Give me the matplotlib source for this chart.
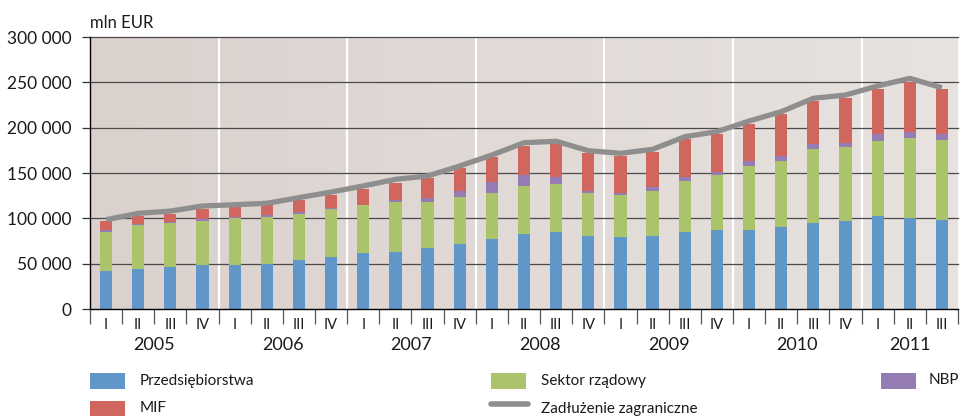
import numpy as np
import matplotlib
matplotlib.use("Agg")
import matplotlib.pyplot as plt
from matplotlib.patches import Rectangle
from matplotlib.lines import Line2D
from matplotlib.colors import LinearSegmentedColormap
from matplotlib.ticker import FuncFormatter, MultipleLocator
import matplotlib.transforms as mtransforms

plt.rcParams['font.family'] = ['Lato', 'DejaVu Sans']

years = ['2005', '2006', '2007', '2008', '2009', '2010', '2011']
quarters = ['I', 'II', 'III', 'IV']
n_quarters_per_year = [4, 4, 4, 4, 4, 4, 3]

przedsiebiorstwa = [41900, 44100, 46300, 48200, 48200, 50000, 54000, 57700,
                    61800, 63200, 67600, 71700, 77200, 82700, 84900, 80900,
                    79400, 80900, 84900, 87100, 87100, 90800, 94800, 96700,
                    102900, 100700, 98500]
sektor_rzadowy = [43000, 48500, 48500, 48800, 52500, 51100, 50800, 52900,
                  52600, 55100, 50700, 52200, 50700, 53000, 53000, 47000,
                  46300, 49200, 56600, 60400, 70300, 72400, 82000, 82000,
                  82100, 87900, 88200]
nbp = [2200, 1000, 1500, 1900, 600, 2200, 1800, 600,
       600, 1900, 3800, 5900, 11800, 11800, 7300, 2200,
       1900, 4100, 3700, 4000, 5800, 5900, 5500, 4000,
       7700, 6600, 6000]
mif = [9900, 9000, 8100, 11400, 10800, 11100, 13600, 14500,
       17300, 19100, 22700, 26000, 28300, 32600, 36800, 41600,
       41500, 39300, 41900, 41500, 40800, 45900, 47400, 50300,
       49900, 55500, 49900]
zadluzenie = [98500, 105500, 108000, 113600, 115000, 116600, 122800, 129000,
              135700, 143000, 146700, 157700, 169800, 183400, 185000, 174600,
              171700, 176100, 190000, 195600, 207300, 217600, 232400, 236000,
              246000, 254400, 244000]

c_blue = '#6196c8'
c_green = '#abc46c'
c_purple = '#967cb4'
c_red = '#d1665e'
c_line = '#8e8e8e'

fig = plt.figure(figsize=(9.6, 4.16), dpi=100)
W, H = 960, 416
ax_l, ax_r, ax_t, ax_b = 90, 958, 37, 309
ax = fig.add_axes([ax_l / W, 1 - ax_b / H, (ax_r - ax_l) / W, (ax_b - ax_t) / H])

n = len(przedsiebiorstwa)
x = np.arange(n)
ax.set_xlim(-0.5, n - 0.5)
ax.set_ylim(0, 300000)

# background gradient
cmap = LinearSegmentedColormap.from_list('bg', ['#dad1cd', '#e8e3e0'])
grad = np.linspace(0, 1, 256).reshape(1, -1)
ax.imshow(grad, cmap=cmap, aspect='auto', extent=(-0.5, n - 0.5, 0, 300000),
          zorder=0, interpolation='bicubic')

# year separators
bounds = np.cumsum(n_quarters_per_year)[:-1] - 0.5
for b in bounds:
    ax.axvline(b, color='white', lw=1.6, zorder=0.5)

# gridlines
for yv in np.arange(50000, 300001, 50000):
    ax.axhline(yv, color='#4a4a4a', lw=0.9, zorder=0.6, clip_on=False)

bw = 0.38
bot = np.zeros(n)
for vals, col in [(przedsiebiorstwa, c_blue), (sektor_rzadowy, c_green),
                  (nbp, c_purple), (mif, c_red)]:
    v = np.array(vals)
    ax.bar(x, v, bw, bottom=bot, color=col, zorder=2, linewidth=0)
    bot += v

ax.plot(x, zadluzenie, color=c_line, lw=3.8, zorder=3, solid_capstyle='butt')

# spines
for s in ['top', 'right']:
    ax.spines[s].set_visible(False)
ax.spines['left'].set_color('black')
ax.spines['bottom'].set_color('black')
ax.spines['left'].set_linewidth(1.0)
ax.spines['bottom'].set_linewidth(1.0)

ax.yaxis.set_major_locator(MultipleLocator(50000))
ax.yaxis.set_major_formatter(FuncFormatter(lambda v, p: f"{int(v):,}".replace(',', ' ')))
ax.tick_params(axis='y', length=5.8, width=0.9, color='#333333', pad=7.5,
               labelsize=12.5, labelcolor='#1a1a1a')

# x ticks at quarter boundaries
ax.set_xticks(np.arange(-0.5, n, 1.0))
ax.set_xticklabels([])
ax.tick_params(axis='x', length=10.8, width=0.9, color='#555555')

trans = mtransforms.blended_transform_factory(ax.transData, ax.transAxes)
qlabels = []
for ny in n_quarters_per_year:
    qlabels += quarters[:ny]
for xi, q in zip(x, qlabels):
    ax.text(xi, -0.057, q, transform=trans, ha='center', va='center',
            fontsize=10.5, color='#1a1a1a')
starts = np.concatenate([[0], np.cumsum(n_quarters_per_year)[:-1]])
for yr, st, ny in zip(years, starts, n_quarters_per_year):
    ax.text(st - 0.5 + ny / 2, -0.132, yr, transform=trans, ha='center',
            va='center', fontsize=13, color='#1a1a1a')

fig.text(90 / W, 1 - 23 / H, 'mln EUR', fontsize=12, ha='left', va='center',
         color='#1a1a1a')

# legend (manual layout)
legend_items = [
    ('patch', c_blue, 'Przedsiębiorstwa', 90, 380.5, 50),
    ('patch', c_green, 'Sektor rządowy', 491, 380.5, 50),
    ('patch', c_purple, 'NBP', 881, 380.5, 48),
    ('patch', c_red, 'MIF', 90, 408.5, 50),
    ('line', c_line, 'Zadłużenie zagraniczne', 491, 408.5, 50),
]
for kind, col, lab, lx, ly, tx in legend_items:
    if kind == 'patch':
        fig.patches.append(Rectangle((lx / W, 1 - (ly + 8) / H), 35 / W, 16 / H,
                                     transform=fig.transFigure, color=col,
                                     linewidth=0))
    else:
        fig.lines.append(Line2D([lx / W, (lx + 37) / W], [1 - (ly - 5) / H] * 2,
                                transform=fig.transFigure, color=col, lw=4,
                                solid_capstyle='round'))
    fig.text((lx + tx) / W, 1 - ly / H, lab, fontsize=11, ha='left',
             va='center', color='#1a1a1a')

fig.savefig('out.png', dpi=100)
